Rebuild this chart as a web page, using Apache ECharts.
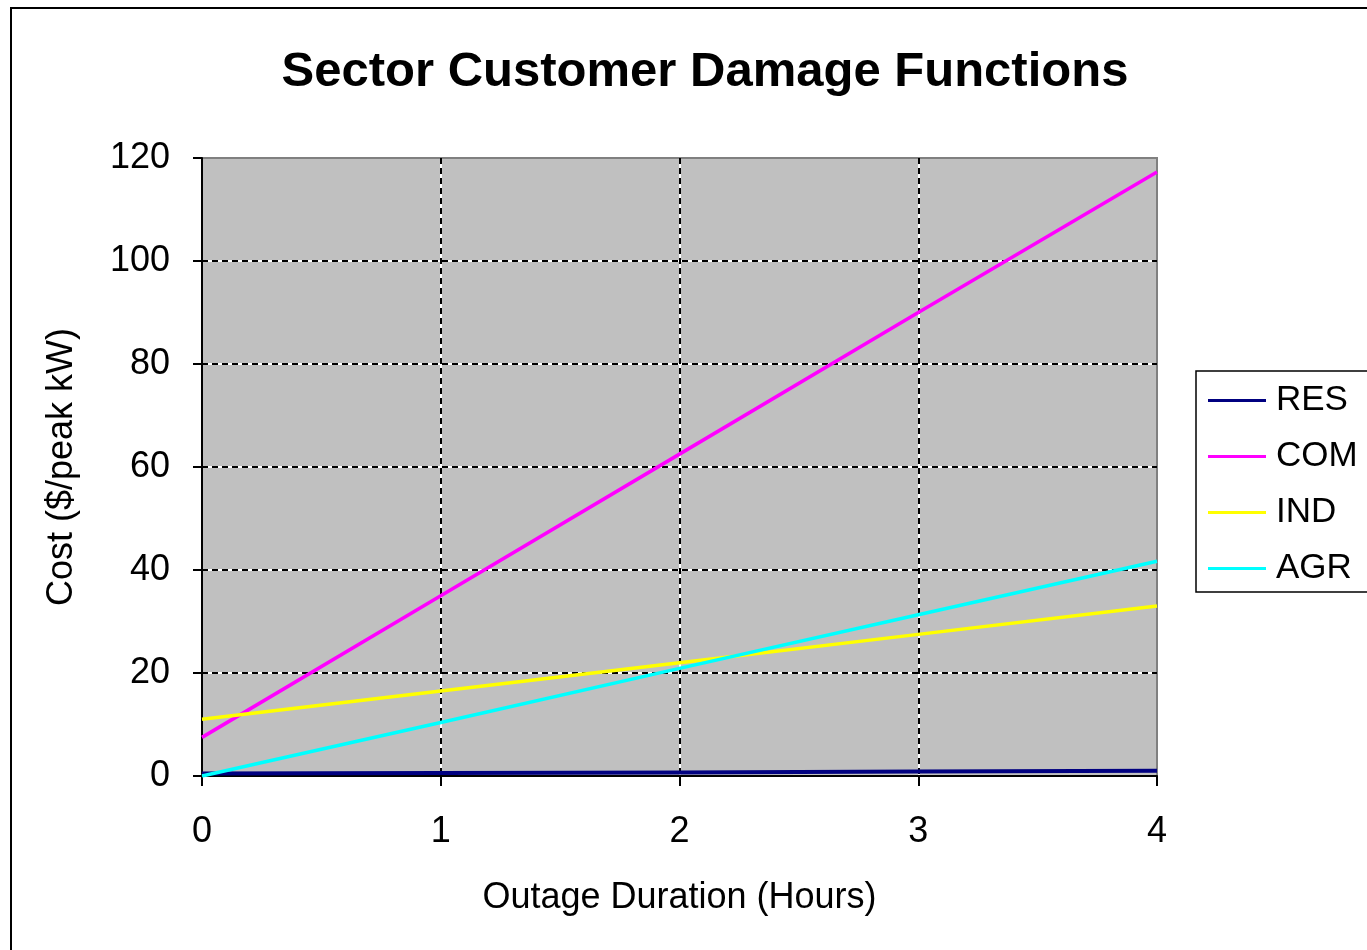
<!DOCTYPE html>
<html lang="en">
<head>
    <meta charset="UTF-8">
    <title>Sector Customer Damage Functions</title>
    <script src="https://cdn.jsdelivr.net/npm/echarts@6/dist/echarts.min.js"></script>
    <style>
        html, body { margin: 0; padding: 0; background: #fff; }
    </style>
</head>
<body>
<div id="chart" style="width: 1367px;height:950px;"></div>
<script>

    // outage duration in hours
    const hours = [0, 1, 2, 3, 4];
    // cost in $/peak kW
    const res = [0.5, 0.6, 0.7, 0.85, 1.0];
    const com = [7.5, 35, 62.5, 90, 117.3];
    const ind = [11, 16.5, 22, 27.5, 33];
    const agr = [0, 10.4, 20.9, 31.3, 41.7];

    const font = 'Liberation Sans, Arial, sans-serif';

    function pairs(vals) {
        return hours.map((h, i) => [h, vals[i]]);
    }

    function line(name, vals, color, width) {
        return {
            name: name,
            type: 'line',
            data: pairs(vals),
            symbol: 'none',
            lineStyle: {color: color, width: width},
            itemStyle: {color: color},
            z: 5
        };
    }

    let chart = echarts.init(document.getElementById('chart'));
    chart.setOption({
        animation: false,
        backgroundColor: '#fff',
        graphic: [{
            type: 'rect',
            shape: {x: 11, y: 8, width: 1400, height: 1000},
            style: {fill: 'none', stroke: '#000', lineWidth: 2}
        }],
        title: {
            text: 'Sector Customer Damage Functions',
            left: 700,
            top: 43,
            textAlign: 'center',
            textStyle: {fontFamily: font, fontSize: 49, fontWeight: 'bold', color: '#000'}
        },
        legend: {
            left: 1196,
            top: 371,
            orient: 'vertical',
            icon: 'rect',
            itemWidth: 58,
            itemHeight: 3,
            itemGap: 21,
            padding: [12, 60, 6, 12],
            borderColor: '#000',
            borderWidth: 1.5,
            textStyle: {fontFamily: font, fontSize: 35, color: '#000', lineHeight: 34, padding: [0, 0, 0, 5]},
            data: ['RES', 'COM', 'IND', 'AGR']
        },
        grid: {
            left: 202,
            right: 1367 - 1157,
            top: 158,
            bottom: 950 - 776,
            show: true,
            backgroundColor: '#c0c0c0',
            borderColor: '#808080',
            borderWidth: 2
        },
        xAxis: [{
            type: 'value',
            min: 0,
            max: 4,
            interval: 1,
            name: 'Outage Duration (Hours)',
            nameLocation: 'middle',
            nameGap: 104,
            nameTextStyle: {fontFamily: font, fontSize: 36, color: '#000'},
            axisLine: {show: true, lineStyle: {color: '#000', width: 2}},
            axisTick: {show: true, length: 10, lineStyle: {color: '#000', width: 2}},
            axisLabel: {fontFamily: font, fontSize: 36, color: '#000', margin: 38},
            splitLine: {
                show: true, showMinLine: false, showMaxLine: false,
                lineStyle: {color: '#000', type: [6, 4], width: 2}
            },
            z: 3
        }, {
            type: 'value',
            min: 0,
            max: 4,
            interval: 1,
            position: 'bottom',
            axisLine: {show: false},
            axisTick: {show: false},
            axisLabel: {show: false},
            splitLine: {
                show: true, showMinLine: false, showMaxLine: false,
                lineStyle: {color: '#fff', width: 2}
            },
            z: 1
        }],
        yAxis: [{
            type: 'value',
            min: 0,
            max: 120,
            interval: 20,
            name: 'Cost ($/peak kW)',
            nameLocation: 'middle',
            nameGap: 122,
            nameTextStyle: {fontFamily: font, fontSize: 36, color: '#000'},
            axisLine: {show: true, lineStyle: {color: '#000', width: 2}},
            axisTick: {show: true, length: 9, lineStyle: {color: '#000', width: 2}},
            axisLabel: {fontFamily: font, fontSize: 36, color: '#000', margin: 32},
            splitLine: {
                show: true, showMinLine: false, showMaxLine: false,
                lineStyle: {color: '#000', type: [6, 4], width: 2}
            },
            z: 3
        }, {
            type: 'value',
            min: 0,
            max: 120,
            interval: 20,
            position: 'left',
            axisLine: {show: false},
            axisTick: {show: false},
            axisLabel: {show: false},
            splitLine: {
                show: true, showMinLine: false, showMaxLine: false,
                lineStyle: {color: '#fff', width: 2}
            },
            z: 1
        }],
        series: [
            line('RES', res, '#000080', 4),
            line('COM', com, '#ff00ff', 3.5),
            line('IND', ind, '#ffff00', 3.5),
            line('AGR', agr, '#00ffff', 3.5)
        ]
    });
</script>
</body>
</html>
